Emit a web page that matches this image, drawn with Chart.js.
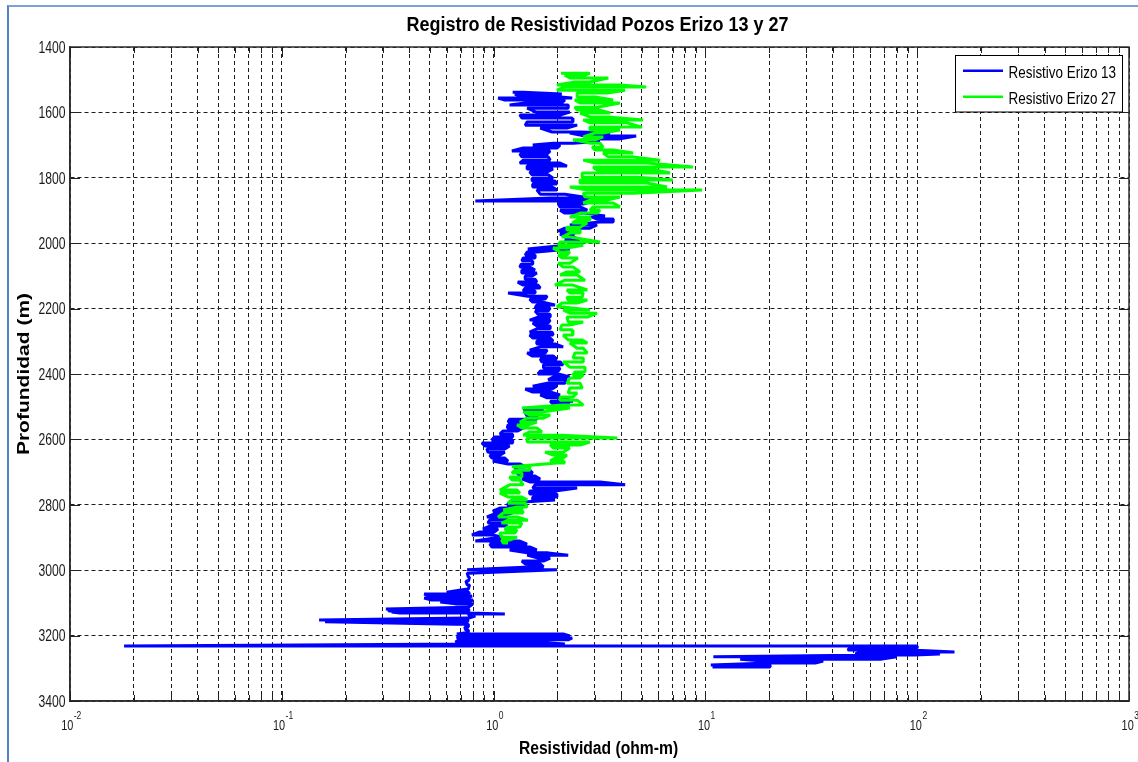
<!DOCTYPE html>
<html>
<head>
<meta charset="utf-8">
<title>Registro de Resistividad Pozos Erizo 13 y 27</title>
<script src="https://cdn.jsdelivr.net/npm/chart.js@4.4.1/dist/chart.umd.min.js"></script>
<style>
  html, body { margin: 0; padding: 0; background: #ffffff; }
  #wrap { position: relative; width: 1138px; height: 762px; overflow: hidden; background: #ffffff; }
  #c { position: absolute; left: 0; top: 0; }
  /* window frame around the figure */
  #frame { position: absolute; left: 7px; top: 5px; right: -10px; bottom: -10px;
           border-left: 2px solid #4f81c4; border-top: 2px solid #7aa2d8; pointer-events: none; }
</style>
</head>
<body>
<div id="wrap">
  <canvas id="c" width="1138" height="762"></canvas>
  <div id="frame"></div>
</div>
<script>
// ---- texts ----
const chartTitle = 'Registro de Resistividad Pozos Erizo 13 y 27';
const xTitle = 'Resistividad (ohm-m)';
const yTitle = 'Profundidad (m)';
const seriesNames = ['Resistivo Erizo 13', 'Resistivo Erizo 27'];
const seriesColors = ['#0000ff', '#00ff00'];

// ---- axis ticks ----
const depthTicks = [1400, 1600, 1800, 2000, 2200, 2400, 2600, 2800, 3000, 3200, 3400];
const decadeValues = [0.01, 0.1, 1, 10, 100, 1000];
const decadeExponents = ['-2', '-1', '0', '1', '2', '3'];
const minorMultipliers = [2, 3, 4, 5, 6, 7, 8, 9];

// ---- Erizo 13: depth (m), min / max resistivity (ohm-m) per depth sample ----
const depth13 = [1538,1544,1550,1556,1562,1571,1577,1587,1599,1608,
  1617,1629,1639,1648,1660,1663,1672,1681,1688,1694,
  1700,1709,1718,1727,1736,1746,1755,1764,1773,1782,
  1791,1801,1810,1819,1828,1837,1850,1862,1871,1880,
  1889,1899,1908,1917,1926,1935,1944,1954,1963,1972,
  1981,1990,1999,2009,2018,2027,2036,2045,2054,2064,
  2073,2082,2091,2100,2110,2119,2128,2137,2146,2152,
  2162,2171,2180,2189,2198,2207,2217,2226,2235,2244,
  2253,2262,2272,2281,2290,2299,2308,2317,2327,2336,
  2345,2354,2363,2372,2382,2391,2400,2409,2418,2428,
  2437,2446,2455,2464,2473,2483,2492,2501,2510,2519,
  2528,2538,2547,2556,2565,2574,2584,2593,2602,2611,
  2620,2629,2639,2648,2657,2666,2675,2684,2694,2703,
  2712,2721,2730,2739,2749,2758,2767,2776,2785,2791,
  2801,2810,2819,2828,2837,2846,2856,2865,2874,2883,
  2892,2902,2911,2920,2929,2938,2947,2954,2963,2972,
  2981,2990,2999,3009,3021,3033,3045,3058,3067,3073,
  3079,3085,3091,3097,3103,3113,3119,3122,3125,3128,
  3131,3134,3140,3146,3152,3158,3165,3174,3183,3192,
  3195,3201,3207,3213,3220,3226,3232,3238,3244,3250,
  3256,3259,3265,3272,3278,3284,3290,3296];
const lo13 = [1.23,1.26,1.33,1.05,1.13,1.41,1.19,1.44,1.59,1.33,
  1.36,1.44,1.41,1.66,1.89,2.29,2.70,2.85,2.42,1.91,
  1.53,1.38,1.22,1.33,1.36,1.38,1.33,1.44,1.44,1.48,
  1.52,1.52,1.52,1.53,1.53,1.60,1.66,1.85,0.82,2.02,
  2.06,2.06,2.17,2.85,3.08,3.18,2.29,2.17,2.02,2.06,
  2.17,2.17,2.29,1.95,1.45,1.44,1.41,1.38,1.36,1.35,
  1.33,1.36,1.36,1.41,1.41,1.30,1.38,1.41,1.38,1.17,
  1.45,1.48,1.53,1.60,1.57,1.57,1.62,1.62,1.48,1.53,
  1.60,1.60,1.48,1.48,1.53,1.60,1.60,1.66,1.48,1.44,
  1.52,1.66,1.69,1.72,1.72,1.66,1.62,1.91,1.81,1.79,
  1.53,1.41,1.53,1.66,1.79,1.85,1.91,1.75,1.38,1.41,
  1.44,1.19,1.17,1.17,1.16,1.11,1.07,1.01,0.98,0.88,
  0.91,0.93,0.94,0.96,0.98,0.99,1.17,1.26,1.29,1.29,
  1.33,1.36,1.48,1.57,1.53,1.48,1.48,1.53,1.53,1.19,
  1.16,1.07,0.99,1.01,0.93,0.96,0.94,0.96,0.89,0.86,
  0.79,0.99,0.82,0.96,0.98,1.19,1.44,1.44,1.62,1.36,
  1.41,1.48,0.75,0.75,0.76,0.74,0.75,0.74,0.60,0.47,
  0.50,0.47,0.51,0.56,0.66,0.75,0.31,0.32,0.32,0.33,
  0.36,0.76,0.77,0.75,0.15,0.16,0.66,0.73,0.74,0.73,
  0.67,0.69,0.67,0.69,0.66,0.77,0.018,48,47,54,
  51,67,10.9,14.6,18.7,20.2,10.6,10.8];
const hi13 = [1.38,2.10,1.81,2.35,2.17,2.10,2.25,2.25,2.29,2.06,
  2.35,2.37,2.48,2.22,2.56,3.55,4.71,3.95,3.18,2.37,
  2.06,1.99,1.85,1.79,1.81,1.85,2.06,2.22,1.91,1.79,
  1.81,1.91,1.95,1.99,1.89,1.99,2.17,2.85,2.95,2.65,
  2.56,2.77,2.70,3.36,3.67,3.67,3.08,2.85,2.29,2.42,
  2.37,2.56,2.65,2.22,2.29,1.60,1.57,1.57,1.52,1.53,
  1.48,1.57,1.60,1.52,1.57,1.60,1.62,1.66,1.57,1.57,
  1.79,1.75,1.69,1.95,1.85,1.81,1.85,1.85,1.85,1.81,
  1.85,1.85,1.89,1.91,1.85,1.91,1.95,2.13,1.79,1.75,
  1.91,1.99,2.06,2.13,2.06,2.02,2.02,2.29,2.22,2.17,
  1.99,1.89,1.85,2.06,2.13,2.37,2.29,2.10,1.72,1.60,
  1.60,1.60,1.44,1.41,1.38,1.30,1.23,1.23,1.23,1.23,
  1.19,1.13,1.13,1.07,1.13,1.17,1.33,1.41,1.48,1.53,
  1.57,1.66,3.18,4.18,2.48,1.95,1.99,1.99,1.95,1.44,
  1.44,1.33,1.29,1.19,1.16,1.13,1.11,1.16,1.05,1.01,
  0.99,1.16,1.33,1.44,1.48,1.60,1.81,2.25,1.85,1.72,
  1.66,1.72,1.99,0.76,0.77,0.76,0.77,0.76,0.76,0.77,
  0.79,0.76,0.80,0.77,0.80,0.76,0.77,0.76,0.77,0.76,
  0.77,1.13,0.82,0.77,0.76,0.75,0.76,0.76,0.76,0.76,
  2.13,2.29,2.35,2.25,1.66,2.17,100,100,93,150,
  128,97,80,67,36,33,20.2,20.2];

// ---- Erizo 27: depth (m), min / max resistivity (ohm-m) per depth sample ----
const depth27 = [1480,1486,1495,1507,1516,1522,1532,1541,1553,1562,
  1571,1584,1593,1602,1614,1623,1632,1645,1654,1663,
  1675,1684,1694,1706,1715,1724,1736,1746,1755,1767,
  1776,1785,1798,1807,1816,1828,1837,1847,1859,1868,
  1877,1889,1899,1908,1920,1929,1938,1951,1960,1969,
  1981,1996,2006,2015,2027,2036,2045,2061,2073,2088,
  2097,2113,2128,2143,2152,2165,2174,2183,2195,2204,
  2214,2226,2241,2250,2265,2281,2296,2305,2321,2336,
  2351,2363,2379,2394,2403,2412,2428,2443,2458,2470,
  2480,2495,2504,2516,2525,2535,2547,2556,2565,2577,
  2587,2596,2608,2617,2626,2639,2648,2657,2666,2672,
  2684,2694,2703,2715,2724,2739,2755,2764,2776,2785,
  2795,2807,2816,2825,2837,2847,2856,2868,2877,2886,
  2899,2908,2917];
const lo27 = [2.08,2.17,2.29,2.42,1.99,2.17,1.99,2.48,2.48,2.42,
  2.56,2.42,2.48,2.56,2.85,2.65,2.85,2.85,2.85,3.01,
  2.65,2.37,2.85,2.92,3.01,3.29,3.48,2.65,3.01,2.95,
  3.08,2.62,2.62,2.56,2.56,2.29,2.77,2.65,2.70,2.85,
  2.65,2.95,2.85,2.56,2.29,2.48,2.35,2.22,2.22,2.29,
  2.10,2.06,2.02,1.91,2.06,2.02,2.10,2.02,2.13,2.22,
  2.06,2.17,1.95,2.22,2.29,2.22,2.25,2.10,1.99,2.13,
  2.29,2.22,2.25,2.10,2.06,2.13,2.25,2.29,2.48,2.42,
  2.37,2.13,2.29,2.42,2.37,2.29,2.22,2.29,2.25,2.06,
  2.06,2.13,1.36,1.38,1.48,1.44,1.33,1.29,1.36,1.48,
  1.38,1.44,1.44,1.85,1.91,1.75,1.91,1.95,1.85,1.99,
  1.22,1.26,1.22,1.19,1.22,1.19,1.07,1.07,1.17,1.22,
  1.17,1.29,1.11,1.11,1.05,1.17,1.09,1.16,1.13,1.07,
  1.09,1.09,1.11];
const hi27 = [2.85,2.70,3.48,2.85,3.95,5.25,4.18,3.44,3.01,3.67,
  3.95,3.08,3.18,3.55,3.48,5.08,4.27,5.02,3.95,3.29,
  3.29,3.01,3.18,3.29,3.67,4.56,4.56,6.11,5.31,8.73,
  5.80,6.81,4.76,7.02,5.31,6.59,9.65,4.56,3.95,3.44,
  3.67,3.95,3.18,3.08,2.85,2.85,2.77,2.56,2.56,2.56,
  2.29,3.18,2.65,2.22,2.29,2.22,2.50,2.29,2.37,2.56,
  2.48,2.70,2.37,2.77,2.65,2.62,2.77,2.48,2.13,2.85,
  3.08,2.77,2.65,2.29,2.35,2.37,2.62,2.77,2.65,2.77,
  2.65,2.65,2.70,2.70,2.65,2.56,2.56,2.62,2.48,2.37,
  2.48,2.65,2.29,1.69,1.85,1.72,1.60,1.45,1.60,1.69,
  2.10,3.84,2.85,2.56,2.29,2.13,2.22,2.13,2.13,2.17,
  1.48,1.48,1.36,1.36,1.33,1.38,1.29,1.33,1.36,1.44,
  1.41,1.44,1.36,1.38,1.29,1.45,1.36,1.33,1.29,1.26,
  1.29,1.19,1.17];

// The log trace sweeps between the min and max reading of each depth sample,
// alternating direction so consecutive samples join end to end.
function logTrace(depths, lo, hi) {
  const pts = [];
  depths.forEach((d, i) => {
    const a = { x: lo[i], y: d }, b = { x: hi[i], y: d };
    if (i % 2 === 0) pts.push(a, b); else pts.push(b, a);
  });
  return pts;
}

// grid positions on the log axis: every decade plus 2..9 inside it
const xGridValues = [];
decadeValues.forEach((v, i) => {
  xGridValues.push(v);
  if (i < decadeValues.length - 1) minorMultipliers.forEach(m => xGridValues.push(+(v * m).toPrecision(3)));
});

const FONT = '"Liberation Sans", Arial, sans-serif';

// text drawn with a horizontal squeeze factor
function squeezedText(ctx, text, x, y, font, align, sx) {
  ctx.save();
  ctx.font = font;
  ctx.textAlign = align;
  ctx.textBaseline = 'alphabetic';
  ctx.translate(x, y);
  ctx.scale(sx, 1);
  ctx.fillText(text, 0, 0);
  ctx.restore();
}

const axesFrame = {
  id: 'axesFrame',
  beforeDraw(chart) {
    const ctx = chart.ctx;
    ctx.save();
    ctx.fillStyle = '#ffffff';
    ctx.fillRect(0, 0, chart.width, chart.height);
    ctx.restore();
  },
  afterDraw(chart) {
    const { ctx, chartArea: a, scales } = chart;
    const x = scales.x, y = scales.y;
    ctx.save();
    ctx.setLineDash([]);

    // axes box
    ctx.strokeStyle = '#2e2e2e';
    ctx.lineWidth = 1.5;
    ctx.strokeRect(a.left, a.top, a.right - a.left, a.bottom - a.top);

    // inward tick marks
    ctx.lineWidth = 1;
    ctx.strokeStyle = '#222222';
    ctx.beginPath();
    xGridValues.forEach(v => {
      const px = Math.round(x.getPixelForValue(v)) + 0.5;
      const len = decadeValues.includes(v) ? 10 : 6;
      ctx.moveTo(px, a.bottom); ctx.lineTo(px, a.bottom - len);
      ctx.moveTo(px, a.top); ctx.lineTo(px, a.top + len);
    });
    depthTicks.forEach(v => {
      const py = Math.round(y.getPixelForValue(v)) + 0.5;
      ctx.moveTo(a.left, py); ctx.lineTo(a.left + 10, py);
      ctx.moveTo(a.right, py); ctx.lineTo(a.right - 10, py);
    });
    ctx.stroke();

    ctx.fillStyle = '#1a1a1a';
    // depth tick labels
    depthTicks.forEach(v => {
      const py = y.getPixelForValue(v);
      squeezedText(ctx, String(v), a.left - 4.5, py + 5.8, '16px ' + FONT, 'right', 0.76);
    });

    // resistivity tick labels: 10 with a raised exponent
    decadeValues.forEach((v, i) => {
      const px = x.getPixelForValue(v);
      const baseFont = '14px ' + FONT, expFont = '10px ' + FONT;
      ctx.font = baseFont;
      const w1 = ctx.measureText('10').width * 0.78;
      ctx.font = expFont;
      const w2 = ctx.measureText(decadeExponents[i]).width * 0.85;
      const start = px - (w1 + w2) / 2 + 1;
      squeezedText(ctx, '10', start, 729.5, baseFont, 'left', 0.78);
      squeezedText(ctx, decadeExponents[i], start + w1 + 0.5, 718.5, expFont, 'left', 0.85);
    });

    const cx = (a.left + a.right) / 2;
    ctx.fillStyle = '#000000';
    // title
    squeezedText(ctx, chartTitle, cx - 2, 30.5, 'bold 20px ' + FONT, 'center', 0.9);
    // x axis title
    squeezedText(ctx, xTitle, cx - 1, 753.5, 'bold 18px ' + FONT, 'center', 0.87);
    // y axis title
    ctx.save();
    ctx.font = 'bold 21px ' + FONT;
    ctx.textAlign = 'center';
    ctx.textBaseline = 'alphabetic';
    ctx.translate(28.5, (a.top + a.bottom) / 2);
    ctx.rotate(-Math.PI / 2);
    ctx.scale(1, 0.8);
    ctx.fillText(yTitle, 0, 0);
    ctx.restore();

    // legend box
    const lx = 955.5, ly = 55.5, lw = 167, lh = 56.5;
    ctx.fillStyle = '#ffffff';
    ctx.fillRect(lx, ly, lw, lh);
    ctx.strokeStyle = '#000000';
    ctx.lineWidth = 1;
    ctx.strokeRect(lx, ly, lw, lh);
    chart.data.datasets.forEach((ds, i) => {
      const rowY = 70.7 + i * 26;
      ctx.strokeStyle = ds.borderColor;
      ctx.lineWidth = 2.5;
      ctx.beginPath();
      ctx.moveTo(963, rowY); ctx.lineTo(1003, rowY);
      ctx.stroke();
      ctx.fillStyle = '#000000';
      squeezedText(ctx, ds.label, 1008.5, rowY + 7.6, '16px ' + FONT, 'left', 0.84);
    });
    ctx.restore();
  }
};

const gridStyle = { color: '#1e1e1e', lineWidth: 1, drawTicks: false };
const borderStyle = { display: true, color: '#2e2e2e', width: 1.5, dash: [4, 3] };

new Chart(document.getElementById('c').getContext('2d'), {
  type: 'scatter',
  data: {
    datasets: [
      { label: seriesNames[0], data: logTrace(depth13, lo13, hi13),
        borderColor: seriesColors[0], backgroundColor: seriesColors[0],
        showLine: true, borderWidth: 3, borderJoinStyle: 'bevel',
        pointRadius: 0, pointHoverRadius: 0, order: 1 },
      { label: seriesNames[1], data: logTrace(depth27, lo27, hi27),
        borderColor: seriesColors[1], backgroundColor: seriesColors[1],
        showLine: true, borderWidth: 3, borderJoinStyle: 'bevel',
        pointRadius: 0, pointHoverRadius: 0, order: 0 }
    ]
  },
  options: {
    responsive: false,
    animation: false,
    devicePixelRatio: 1,
    events: [],
    layout: { padding: { left: 0, top: 47, right: 9, bottom: 0 } },
    plugins: { legend: { display: false }, title: { display: false }, tooltip: { enabled: false } },
    scales: {
      x: {
        type: 'logarithmic', position: 'bottom', min: 0.01, max: 1000,
        afterBuildTicks: s => { s.ticks = xGridValues.map(v => ({ value: v })); },
        afterFit: s => { s.height = 61; },
        ticks: { display: false },
        grid: gridStyle,
        border: borderStyle
      },
      y: {
        type: 'linear', position: 'left', reverse: true, min: 1400, max: 3400,
        afterBuildTicks: s => { s.ticks = depthTicks.map(v => ({ value: v })); },
        afterFit: s => { s.width = 70; },
        ticks: { display: false },
        grid: gridStyle,
        border: borderStyle
      }
    }
  }
,
  plugins: [axesFrame]
});
</script>
</body>
</html>
